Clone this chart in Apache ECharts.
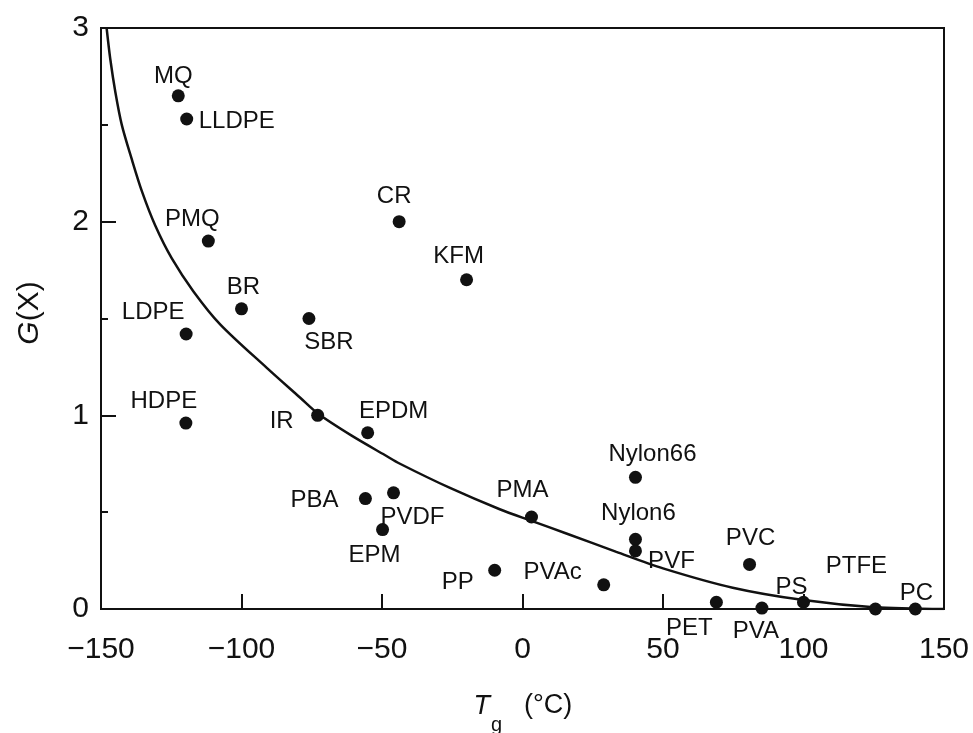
<!DOCTYPE html>
<html>
<head>
<meta charset="utf-8">
<script src="https://cdn.jsdelivr.net/npm/echarts@6/dist/echarts.min.js"></script>
<style>
html,body{margin:0;padding:0;background:#fff;}
#chart{width:973px;height:733px;}
</style>
</head>
<body>
<div id="chart"></div>
<script>
// Polymer names, glass transition temperature Tg (°C), G(X)
const polymers = ['MQ','LLDPE','PMQ','BR','LDPE','SBR','HDPE','IR','EPDM','PBA','PVDF','EPM','CR','KFM','PP','PMA','PVAc','Nylon66','Nylon6','PVF','PVC','PET','PVA','PS','PTFE','PC'];
const tgValues = [-122.5,-119.5,-111.8,-100,-119.7,-76,-119.8,-72.9,-55.1,-55.9,-45.9,-49.8,-43.9,-19.9,-9.9,3.2,28.9,40.2,40.2,40.2,80.8,69,85.2,100,125.6,139.8];
const gxValues = [2.65,2.53,1.90,1.55,1.42,1.50,0.96,1.00,0.91,0.57,0.60,0.41,2.00,1.70,0.20,0.475,0.125,0.68,0.36,0.30,0.23,0.035,0.005,0.035,0.0,0.0];

// Fitted curve
const curveTg = [-148,-146.7,-144.9,-142.6,-139.0,-135.4,-130.7,-124.8,-117.1,-107.6,-91.0,-79.2,-72.7,-60.8,-49.0,-43.6,-25.8,-8.1,3.2,15.6,33.4,50,74.8,100,125,150];
const curveGx = [3.0,2.84,2.67,2.50,2.32,2.155,1.98,1.81,1.64,1.47,1.245,1.092,1.008,0.895,0.795,0.75,0.625,0.515,0.455,0.39,0.295,0.21,0.11,0.046,0.009,0.0];

// Axis ticks
const xTicks = [-150,-100,-50,0,50,100,150];
const yTicks = [0,1,2,3];

// Label placement (style): pixel offset of each label centre from its point
const labelOffsets = {
  MQ:[-5,-19], LLDPE:[50,2], PMQ:[-16,-22], BR:[2,-21], LDPE:[-33,-22], SBR:[20,24],
  HDPE:[-22,-22], IR:[-36,6], EPDM:[26,-21], PBA:[-51,2], PVDF:[19,25], EPM:[-8,26],
  CR:[-5,-25], KFM:[-8,-23], PP:[-37,12], PMA:[-9,-27], PVAc:[-51,-12], Nylon66:[17,-23],
  Nylon6:[3,-26], PVF:[36,10], PVC:[1,-26], PET:[-27,26], PVA:[-6,23], PS:[-12,-15],
  PTFE:[-19,-43], PC:[1,-16]
};

const FONT = '"Liberation Sans", Arial, Helvetica, sans-serif';
const chart = echarts.init(document.getElementById('chart'), null, {renderer:'canvas'});

const scatterData = polymers.map((n,i)=>({
  name:n,
  value:[tgValues[i], gxValues[i]],
  label:{offset: labelOffsets[n] || [0,-20]}
}));
const curveData = curveTg.map((t,i)=>[t, curveGx[i]]);

const option = {
  animation:false,
  backgroundColor:'#fff',
  grid:{left:101,right:29,top:28,bottom:124,show:true,borderColor:'#111',borderWidth:2,backgroundColor:'transparent'},
  xAxis:{
    type:'value', min:xTicks[0], max:xTicks[xTicks.length-1], interval:50,
    axisLine:{show:true,onZero:false,lineStyle:{color:'#111',width:2}},
    axisTick:{show:true,inside:true,length:15,lineStyle:{color:'#111',width:2}},
    splitLine:{show:false},
    axisLabel:{color:'#111',fontSize:30,fontFamily:FONT,margin:26,
      formatter:v=>String(v).replace('-','\u2212')}
  },
  yAxis:{
    type:'value', min:yTicks[0], max:yTicks[yTicks.length-1], interval:1,
    axisLine:{show:true,onZero:false,lineStyle:{color:'#111',width:2}},
    axisTick:{show:true,inside:true,length:15,lineStyle:{color:'#111',width:2}},
    minorTick:{show:true,splitNumber:2,length:7,lineStyle:{color:'#111',width:2}},
    splitLine:{show:false},
    axisLabel:{color:'#111',fontSize:30,fontFamily:FONT,margin:12}
  },
  series:[
    {
      type:'line', data:curveData, smooth:0.3, showSymbol:false,
      lineStyle:{color:'#111',width:2.5}, z:2, silent:true
    },
    {
      type:'scatter', data:scatterData, symbol:'circle', symbolSize:13,
      itemStyle:{color:'#111',opacity:1}, z:3,
      label:{show:true,position:'inside',align:'center',verticalAlign:'middle',
        formatter:p=>p.name,color:'#111',opacity:1,fontSize:24,fontFamily:FONT}
    }
  ],
  graphic:[
    {type:'text', x:30, y:313, rotation:Math.PI/2, silent:true,
      style:{text:'{i|G}(X)', rich:{i:{fontStyle:'italic',fontSize:30,fontFamily:FONT,fill:'#111'}},
        fontSize:30,fontFamily:FONT,fill:'#111',align:'center',verticalAlign:'middle'}
    },
    {type:'text', x:490, y:706, silent:true,
      style:{text:'T',fontSize:27,fontStyle:'italic',fontFamily:FONT,fill:'#111',align:'right',verticalAlign:'middle'}},
    {type:'text', x:491, y:725, silent:true,
      style:{text:'g',fontSize:20,fontFamily:FONT,fill:'#111',align:'left',verticalAlign:'middle'}},
    {type:'text', x:524, y:706, silent:true,
      style:{text:'(°C)',fontSize:27,fontFamily:FONT,fill:'#111',align:'left',verticalAlign:'middle'}}
  ]
};
chart.setOption(option);
</script>
</body>
</html>
